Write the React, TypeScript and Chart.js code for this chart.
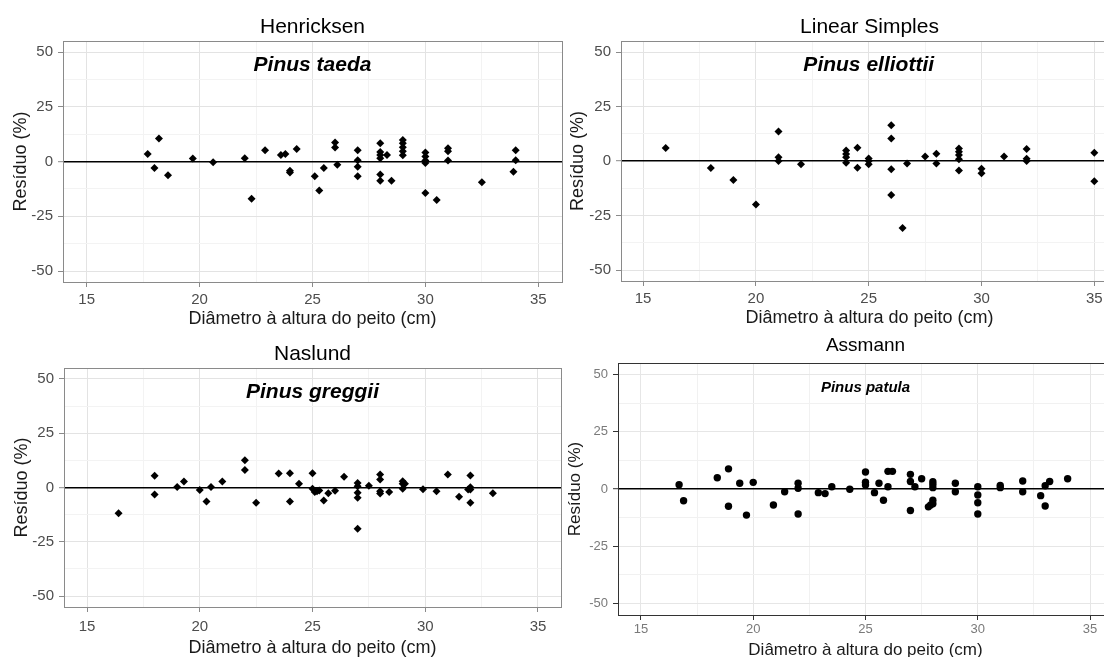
import React, { useEffect, useRef } from "react";
import { Chart, registerables } from "chart.js";

Chart.register(...registerables);

const FONT = '"Liberation Sans", Arial, sans-serif';

// ---------- data ----------
const henricksenX = [17.7, 18.2, 18.0, 18.6, 19.7, 20.6, 22.0, 22.3, 22.9, 23.6, 23.8, 24.3, 24.0, 24.0, 25.1, 25.3, 25.5, 26.0, 26.0, 26.1, 27, 27, 27, 27, 28, 28, 28, 28, 28.3, 28, 28, 28.5, 29, 29, 29, 29, 29, 30, 30, 30, 30, 30, 30.5, 31, 31, 31, 32.5, 34, 34, 33.9];
const henricksenY = [3.5, 10.6, -2.9, -6.2, 1.4, -0.3, 1.5, -17, 5.2, 3.0, 3.5, 5.8, -4.2, -5.0, -6.7, -13.2, -2.9, 8.7, 6.4, -1.4, 5.2, 0.6, -2.4, -6.7, 8.4, 4.4, 3.0, 1.5, 3.0, -5.9, -8.8, -8.8, 9.9, 8.4, 6.5, 4.7, 2.9, 4.1, 2.3, 0.5, -0.6, -14.3, -17.5, 6.1, 4.7, 0.5, -9.4, 5.2, 0.6, -4.6];

const linearX = [16.0, 18.0, 19.0, 20.0, 21.0, 21.0, 21.0, 22.0, 24, 24, 24, 24, 24.5, 24.5, 25, 25, 25, 26, 26, 26, 26, 26.5, 26.7, 27.5, 28, 28, 29, 29, 29, 29, 29, 30, 30, 31, 32, 32, 32, 35, 35];
const linearY = [6.0, -3.2, -8.7, -19.9, 13.6, 1.8, 0, -1.5, 4.9, 3.3, 1.8, -0.8, 6.1, -3.1, 1.2, 0, -1.5, 16.4, 10.4, -3.7, -15.6, -30.7, -1.1, 2.1, 3.4, -1.1, 5.8, 4.3, 2.8, 0.9, -4.3, -3.5, -5.6, 2.1, 5.6, 1.1, 0, 3.8, -9.2];

const naslundX = [16.4, 18, 18, 19, 19.3, 20, 20.3, 20.5, 21, 22, 22, 22.5, 23.5, 24, 24, 24.4, 25, 25, 25.1, 25.2, 25.3, 25.5, 25.7, 26, 26.4, 27, 27, 27, 27, 27, 27.5, 28, 28, 28, 28, 28.4, 29, 29, 29, 29.1, 29.9, 30.5, 31, 31.5, 32, 32, 32, 31.9, 32, 33];
const naslundY = [-11.9, 5.4, -3.2, 0.2, 2.8, -1.1, -6.4, 0.2, 2.8, 12.5, 8.1, -7.0, 6.5, 6.6, -6.4, 1.7, 6.6, -0.6, -2.1, -1.7, -1.4, -6.0, -2.6, -1.5, 5.0, 2.1, 0.6, -2.4, -4.7, -19.0, 0.8, 6.0, 3.7, -1.7, -2.8, -2.1, 2.9, 1.7, -0.6, 1.7, -0.8, -1.7, 6.0, -4.3, 5.5, 0.1, -0.9, -0.9, -7.0, -2.6];

const assmannX = [16.7, 16.9, 18.4, 18.9, 18.9, 19.4, 19.7, 20.0, 20.9, 21.4, 22, 22, 22, 22.9, 23.2, 23.5, 24.3, 25, 25, 25, 25.4, 25.6, 25.8, 26, 26.2, 26, 27, 27, 27.2, 27, 27.5, 27.8, 28, 28, 28, 28, 28, 27.9, 29, 29, 30, 30, 30, 30, 31, 31, 32, 32, 32.8, 33, 33, 33.2, 34];
const assmannY = [1.9, -5.1, 4.9, 8.8, -7.5, 2.5, -11.4, 2.9, -7.0, -1.2, 2.5, 0.3, -10.9, -1.6, -2.0, 1.0, -0.1, 7.4, 3.0, 1.7, -1.6, 2.5, -4.9, 7.7, 7.7, 1.0, 6.4, 3.3, 1.0, -9.4, 4.5, -7.8, 3.2, 2.0, 0.6, -4.9, -6.4, -7.0, 2.5, -1.2, 1.0, -2.6, -6.0, -10.9, 1.6, 0.6, 3.5, -1.2, -2.9, -7.4, 1.4, 3.3, 4.5];

const titles = ["Henricksen", "Linear Simples", "Naslund", "Assmann"];
const species = ["Pinus taeda", "Pinus elliottii", "Pinus greggii", "Pinus patula"];
const speciesPos = { x: 25, y: 44 };

const xTicks = [15, 17.5, 20, 22.5, 25, 27.5, 30, 32.5, 35];
const xMajor = [15, 20, 25, 30, 35];
const yTicks = [-50, -37.5, -25, -12.5, 0, 12.5, 25, 37.5, 50];
const yMajor = [-50, -25, 0, 25, 50];
const xTitle = "Diâmetro à altura do peito (cm)";
const yTitle = "Resíduo (%)";

// ---------- layout / style ----------
type Panel = {
  xs: number[]; ys: number[]; title: string; species: string;
  left: number; top: number; w: number; h: number;
  yW: number; xH: number; padR: number;
  xMin: number; xMax: number; yMin: number; yMax: number;
  titleSize: number; titlePad: { top: number; bottom: number };
  axisTitleSize: number; yTitlePad: number; xTitlePad: number;
  tickSize: number; xTickPad: number; yTickPad: number;
  tickColor: string; axisTitleColor: string; frameColor: string; tickMarkColor: string;
  majorGrid: string; minorGrid: string;
  speciesFont: string; pointStyle: string; radius: number;
};

const common = { yMin: -55, yMax: 55 };

const panels: Panel[] = [
  {
    xs: henricksenX, ys: henricksenY, title: titles[0], species: species[0],
    left: 0, top: 0, w: 566, h: 335, yW: 63, xH: 53, padR: 4,
    xMin: 13.95, xMax: 36.05, ...common,
    titleSize: 21, titlePad: { top: 15, bottom: 1 },
    axisTitleSize: 18, yTitlePad: 10, xTitlePad: 5,
    tickSize: 15, xTickPad: 4, yTickPad: 5,
    tickColor: "#4d4d4d", axisTitleColor: "#1a1a1a", frameColor: "#8a8a8a", tickMarkColor: "#8a8a8a",
    majorGrid: "#e3e3e3", minorGrid: "#f3f3f3",
    speciesFont: `italic bold 21px ${FONT}`, pointStyle: "rectRot", radius: 4,
  },
  {
    xs: linearX, ys: linearY, title: titles[1], species: species[1],
    left: 566, top: 0, w: 556, h: 335, yW: 55, xH: 54, padR: 4,
    xMin: 14.02, xMax: 36.05, ...common,
    titleSize: 21, titlePad: { top: 15, bottom: 1 },
    axisTitleSize: 18, yTitlePad: 1.5, xTitlePad: 6,
    tickSize: 15, xTickPad: 4, yTickPad: 5,
    tickColor: "#4d4d4d", axisTitleColor: "#1a1a1a", frameColor: "#8a8a8a", tickMarkColor: "#8a8a8a",
    majorGrid: "#e3e3e3", minorGrid: "#f3f3f3",
    speciesFont: `italic bold 21px ${FONT}`, pointStyle: "rectRot", radius: 4,
  },
  {
    xs: naslundX, ys: naslundY, title: titles[2], species: species[2],
    left: 0, top: 335, w: 566, h: 340, yW: 64, xH: 68, padR: 5,
    xMin: 13.98, xMax: 36.02, ...common,
    titleSize: 21, titlePad: { top: 6.4, bottom: 1.4 },
    axisTitleSize: 18, yTitlePad: 11, xTitlePad: 16,
    tickSize: 15, xTickPad: 6, yTickPad: 5,
    tickColor: "#4d4d4d", axisTitleColor: "#1a1a1a", frameColor: "#8a8a8a", tickMarkColor: "#8a8a8a",
    majorGrid: "#e3e3e3", minorGrid: "#f3f3f3",
    speciesFont: `italic bold 21px ${FONT}`, pointStyle: "rectRot", radius: 4,
  },
  {
    xs: assmannX, ys: assmannY, title: titles[3], species: species[3],
    left: 560, top: 330, w: 560, h: 345, yW: 58, xH: 60, padR: 7,
    xMin: 13.98, xMax: 36.02, ...common,
    titleSize: 19, titlePad: { top: 4.6, bottom: 5.6 },
    axisTitleSize: 17, yTitlePad: 5, xTitlePad: 14,
    tickSize: 13, xTickPad: 2, yTickPad: 5,
    tickColor: "#7a7a7a", axisTitleColor: "#1a1a1a", frameColor: "#333333", tickMarkColor: "#333333",
    majorGrid: "#e6e6e6", minorGrid: "#f1f1f1",
    speciesFont: `italic bold 15px ${FONT}`, pointStyle: "circle", radius: 3.7,
  },
];

const framePlugin = {
  id: "frame",
  beforeDatasetsDraw(chart: any, _a: any, opts: any) {
    const { ctx, chartArea: a } = chart;
    ctx.save();
    ctx.strokeStyle = opts.color;
    ctx.lineWidth = 1;
    ctx.strokeRect(Math.round(a.left) + 0.5, Math.round(a.top) + 0.5, Math.round(a.right - a.left), Math.round(a.bottom - a.top));
    ctx.restore();
  },
  afterDatasetsDraw(chart: any, _a: any, opts: any) {
    const { ctx } = chart;
    const x = chart.scales.x.getPixelForValue(speciesPos.x);
    const y = chart.scales.y.getPixelForValue(speciesPos.y);
    ctx.save();
    ctx.font = opts.font;
    ctx.fillStyle = "#000";
    ctx.textAlign = "center";
    ctx.textBaseline = "middle";
    ctx.fillText(opts.text, x, y);
    ctx.restore();
  },
};

function buildConfig(p: Panel): any {
  return {
    type: "scatter",
    data: {
      datasets: [
        {
          data: p.xs.map((x, i) => ({ x, y: p.ys[i] })),
          pointStyle: p.pointStyle,
          pointRadius: p.radius,
          pointHoverRadius: p.radius,
          backgroundColor: "#000",
          borderColor: "#000",
          borderWidth: 0,
        },
      ],
    },
    plugins: [framePlugin],
    options: {
      responsive: false,
      animation: false,
      devicePixelRatio: 1,
      events: [],
      layout: { padding: { left: 0, right: p.padR, top: 0, bottom: 0 } },
      plugins: {
        legend: { display: false },
        tooltip: { enabled: false },
        title: {
          display: true,
          text: p.title,
          fullSize: false,
          color: "#000",
          font: { family: FONT, size: p.titleSize, weight: "normal", lineHeight: 1.2 },
          padding: p.titlePad,
        },
        frame: { color: p.frameColor, text: p.species, font: p.speciesFont },
      },
      scales: {
        x: {
          type: "linear",
          position: "bottom",
          min: p.xMin,
          max: p.xMax,
          afterBuildTicks: (s: any) => { s.ticks = xTicks.map((v) => ({ value: v })); },
          afterFit: (s: any) => { s.height = p.xH; },
          border: { display: false },
          grid: {
            color: (c: any) => (c.tick && xMajor.includes(c.tick.value) ? p.majorGrid : p.minorGrid),
            lineWidth: 1,
            drawTicks: true,
            tickLength: 5,
            tickWidth: 1,
            tickColor: (c: any) => (c.tick && xMajor.includes(c.tick.value) ? p.tickMarkColor : "rgba(0,0,0,0)"),
          },
          ticks: {
            autoSkip: false,
            maxRotation: 0,
            padding: p.xTickPad,
            color: p.tickColor,
            font: { family: FONT, size: p.tickSize },
            callback: (v: number) => (xMajor.includes(v) ? String(v) : ""),
          },
          title: {
            display: true,
            text: xTitle,
            color: p.axisTitleColor,
            font: { family: FONT, size: p.axisTitleSize, lineHeight: 1.2 },
            padding: { top: 0, bottom: p.xTitlePad },
          },
        },
        y: {
          type: "linear",
          position: "left",
          min: p.yMin,
          max: p.yMax,
          afterBuildTicks: (s: any) => { s.ticks = yTicks.map((v) => ({ value: v })); },
          afterFit: (s: any) => { s.width = p.yW; },
          border: { display: false },
          grid: {
            color: (c: any) => {
              const v = c.tick ? c.tick.value : null;
              if (v === 0) return "#000";
              return yMajor.includes(v) ? p.majorGrid : p.minorGrid;
            },
            lineWidth: (c: any) => (c.tick && c.tick.value === 0 ? 1.4 : 1),
            drawTicks: true,
            tickLength: 5,
            tickWidth: 1,
            tickColor: (c: any) => (c.tick && yMajor.includes(c.tick.value) ? p.tickMarkColor : "rgba(0,0,0,0)"),
          },
          ticks: {
            autoSkip: false,
            padding: p.yTickPad,
            color: p.tickColor,
            font: { family: FONT, size: p.tickSize },
            callback: (v: number) => (yMajor.includes(v) ? String(v) : ""),
          },
          title: {
            display: true,
            text: yTitle,
            color: p.axisTitleColor,
            font: { family: FONT, size: p.axisTitleSize, lineHeight: 1.2 },
            padding: { top: p.yTitlePad, bottom: 0 },
          },
        },
      },
    },
  };
}

function PanelChart({ p }: { p: Panel }) {
  const ref = useRef<HTMLCanvasElement | null>(null);
  useEffect(() => {
    if (!ref.current) return;
    const chart = new Chart(ref.current, buildConfig(p));
    return () => chart.destroy();
  }, [p]);
  return (
    <canvas
      ref={ref}
      width={p.w}
      height={p.h}
      style={{ position: "absolute", left: p.left, top: p.top, width: p.w, height: p.h, display: "block" }}
    />
  );
}

export default function App() {
  return (
    <div
      style={{
        position: "fixed",
        left: 0,
        top: 0,
        width: 1104,
        height: 657,
        overflow: "hidden",
        background: "#fff",
      }}
    >
      {panels.map((p, i) => (
        <PanelChart key={i} p={p} />
      ))}
    </div>
  );
}
